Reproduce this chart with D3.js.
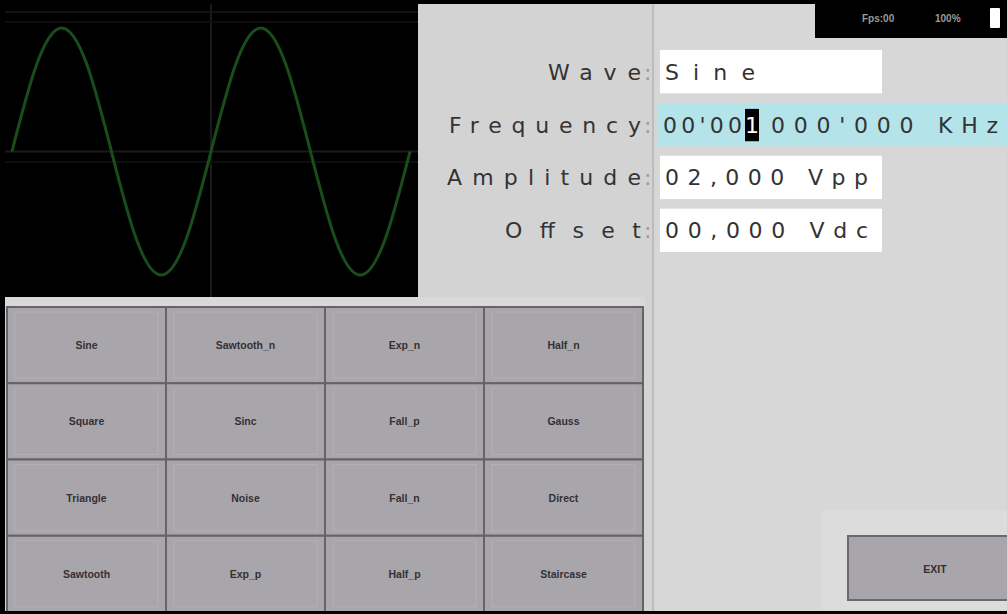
<!DOCTYPE html>
<html><head><meta charset="utf-8">
<script src="https://cdn.jsdelivr.net/npm/d3@7"></script>
<style>html,body{margin:0;padding:0;background:#000;}svg{display:block;}</style>
</head><body>
<svg id="c" width="1007" height="614"></svg>
<script>
// ---- data ----
const wavePeriods = [0,0.125,0.25,0.375,0.5,0.625,0.75,0.875,1,1.125,1.25,1.375,1.5,1.625,1.75,1.875,2];
const waveValues  = [0,0.71,1,0.71,0,-0.71,-1,-0.71,0,0.71,1,0.71,0,-0.71,-1,-0.71,0];
const buttonRows = ["r1","r2","r3","r4"];
const buttonCols = ["c1","c2","c3","c4"];
const buttonLabels = [
  ["Sine","Sawtooth_n","Exp_n","Half_n"],
  ["Square","Sinc","Fall_p","Gauss"],
  ["Triangle","Noise","Fall_n","Direct"],
  ["Sawtooth","Exp_p","Half_p","Staircase"]
];
const fieldLabels = ["Wave","Frequency","Amplitude","Offset"];
const fieldValues = ["Sine","00'001 000'000 KHz","02,000 Vpp","00,000 Vdc"];
const statusTexts = ["Fps:00","100%"];

const svg = d3.select("#c");
// background
svg.append("rect").attr("x",0).attr("y",0).attr("width",1007).attr("height",614).attr("fill","#000");
svg.append("rect").attr("x",5).attr("y",4).attr("width",1002).attr("height",607).attr("fill","#d3d3d3");
svg.append("rect").attr("x",655).attr("y",4).attr("width",352).attr("height",607).attr("fill","#d7d7d7");
svg.append("line").attr("x1",653).attr("x2",653).attr("y1",4).attr("y2",611).attr("stroke","#bdbdbd").attr("stroke-width",2);

// ---- scope ----
const scope = {x0:5, y0:4, x1:418, y1:297};
svg.append("rect").attr("x",scope.x0).attr("y",scope.y0).attr("width",scope.x1-scope.x0).attr("height",scope.y1-scope.y0).attr("fill","#000");
const xs = d3.scaleLinear().domain([0,2]).range([12,410]);
const ys = d3.scaleLinear().domain([-1,1]).range([275,28]);
const gridG = svg.append("g").attr("stroke","#1a1a1a").attr("stroke-width",2);
gridG.append("line").attr("x1",scope.x0).attr("x2",scope.x1).attr("y1",ys(0)).attr("y2",ys(0));
gridG.append("line").attr("x1",xs(1)).attr("x2",xs(1)).attr("y1",scope.y0).attr("y2",scope.y1);
gridG.append("line").attr("x1",scope.x0).attr("x2",scope.x1).attr("y1",12).attr("y2",12).attr("stroke","#111");
gridG.append("line").attr("x1",scope.x0).attr("x2",scope.x1).attr("y1",22).attr("y2",22).attr("stroke","#0e0e0e");
gridG.append("line").attr("x1",scope.x0).attr("x2",scope.x1).attr("y1",162).attr("y2",162).attr("stroke","#0e0e0e");
const line = d3.line().x((d,i)=>xs(wavePeriods[i])).y(d=>ys(d)).curve(d3.curveNatural);
svg.append("path").attr("d",line(waveValues)).attr("fill","none").attr("stroke","#194d1b").attr("stroke-width",3);

// ---- button grid ----
svg.append("rect").attr("x",5).attr("y",297).attr("width",640).attr("height",11).attr("fill","#d9d9d9");
const bx = d3.scaleBand().domain(buttonCols).range([7,643]);
const by = d3.scaleBand().domain(buttonRows).range([307,612]);
const bg = svg.append("g");
buttonRows.forEach((r,ri)=>{
  buttonCols.forEach((c,ci)=>{
    const g = bg.append("g");
    g.append("rect").attr("x",bx(c)).attr("y",by(r)).attr("width",bx.bandwidth()).attr("height",by.bandwidth())
      .attr("fill","#a9a6ab").attr("stroke","#656368").attr("stroke-width",2);
    g.append("rect").attr("x",bx(c)+8).attr("y",by(r)+5).attr("width",bx.bandwidth()-16).attr("height",by.bandwidth()-10)
      .attr("fill","none").attr("stroke","#b3b0b5").attr("stroke-width",1);
    g.append("text").attr("x",bx(c)+bx.bandwidth()/2).attr("y",by(r)+by.bandwidth()/2+4)
      .attr("text-anchor","middle").attr("font-family","Liberation Sans, Arial").attr("font-weight","bold")
      .attr("font-size",10.5).attr("fill","#333135").text(buttonLabels[ri][ci]);
  });
});

// ---- fields ----
const fy = d3.scaleBand().domain(fieldLabels).range([50,252]).paddingInner(0.18);
const labelStart = {Wave:548, Frequency:449, Amplitude:447, Offset:505};
const fg = svg.append("g").attr("font-family","DejaVu Sans, sans-serif").attr("font-size",22);
fieldLabels.forEach((f,i)=>{
  const y = fy(f), h = fy.bandwidth();
  fg.append("text").attr("x",labelStart[f]).attr("y",y+h/2+8).attr("fill","#333")
    .attr("textLength",641-labelStart[f]).attr("lengthAdjust","spacing").text(f);
  fg.append("text").attr("x",644).attr("y",y+h/2+8).attr("fill","#9a9a9a").text(":");
  const isFreq = f==="Frequency";
  fg.append("rect").attr("x",isFreq?658:660).attr("y",y).attr("width",isFreq?349:222).attr("height",h)
    .attr("fill",isFreq?"#b5e3ea":"#ffffff");
  const tx = isFreq?663:665;
  if(!isFreq){
    const w = {Wave:90,Amplitude:203,Offset:203}[f];
    fg.append("text").attr("x",tx).attr("y",y+h/2+8).attr("fill","#333")
      .attr("textLength",w).attr("lengthAdjust","spacing").text(fieldValues[i]);
  } else {
    const v = fieldValues[i];
    const a = v.slice(0,5), cur = v.slice(5,6), b = v.slice(6);
    fg.append("text").attr("x",tx).attr("y",y+h/2+8).attr("fill","#333")
      .attr("textLength",79).attr("lengthAdjust","spacing").text(a);
    fg.append("rect").attr("x",745).attr("y",y+6).attr("width",14).attr("height",h-11).attr("fill","#000");
    fg.append("text").attr("x",752).attr("y",y+h/2+8).attr("fill","#fff").attr("text-anchor","middle").text(cur);
    fg.append("text").attr("x",771).attr("y",y+h/2+8).attr("fill","#333")
      .attr("textLength",227).attr("lengthAdjust","spacing").text(b.trim());
  }
});

// ---- status bar ----
svg.append("rect").attr("x",815).attr("y",0).attr("width",192).attr("height",38).attr("fill","#000");
svg.append("text").attr("x",862).attr("y",22).attr("font-family","Liberation Sans, Arial").attr("font-size",10)
  .attr("font-weight","bold").attr("fill","#9a9a9a").text(statusTexts[0]);
svg.append("text").attr("x",935).attr("y",22).attr("font-family","Liberation Sans, Arial").attr("font-size",10)
  .attr("font-weight","bold").attr("fill","#9a9a9a").text(statusTexts[1]);
svg.append("rect").attr("x",990).attr("y",8).attr("width",10).attr("height",20).attr("rx",1).attr("fill","#fff");

// ---- EXIT button ----
svg.append("rect").attr("x",822).attr("y",510).attr("width",185).attr("height",100).attr("fill","#dcdcdc");
svg.append("rect").attr("x",848).attr("y",536).attr("width",165).attr("height",64)
  .attr("fill","#a9a6ab").attr("stroke","#6b696d").attr("stroke-width",2);
svg.append("text").attr("x",935).attr("y",573).attr("text-anchor","middle").attr("font-family","Liberation Sans, Arial")
  .attr("font-weight","bold").attr("font-size",10.5).attr("fill","#333135").text("EXIT");
// bottom border
svg.append("rect").attr("x",0).attr("y",611).attr("width",1007).attr("height",3).attr("fill","#000");
</script>
</body></html>
